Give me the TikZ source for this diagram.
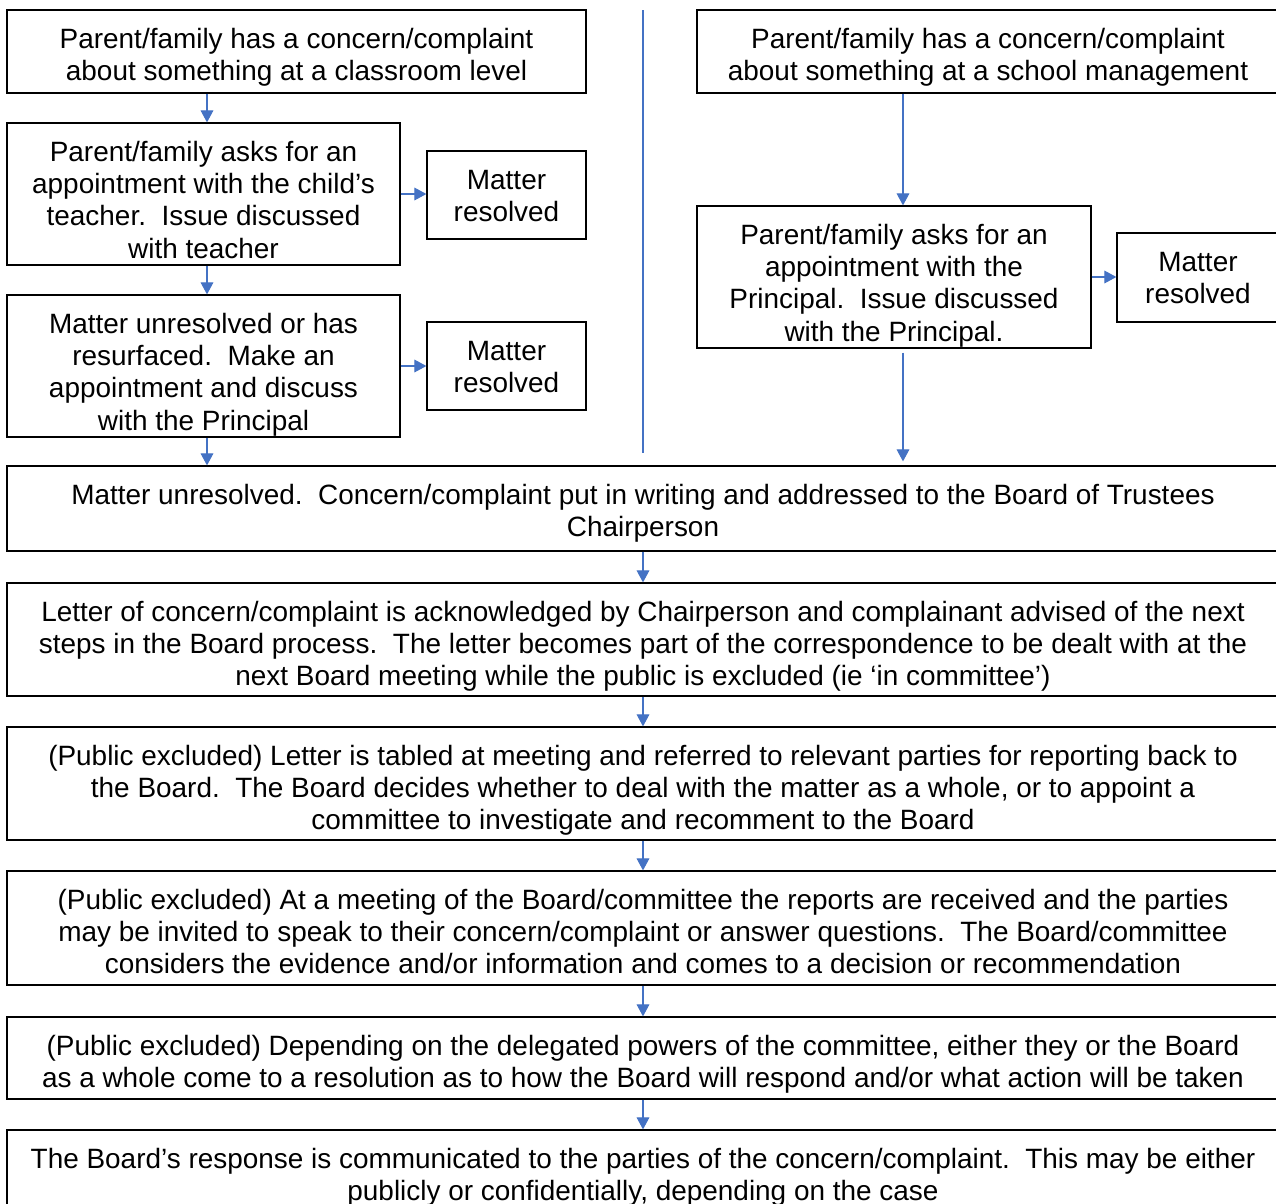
\documentclass[tikz,border=0pt]{standalone}
\usepackage{fontspec}
\setmainfont{Liberation Sans}
\usetikzlibrary{arrows.meta}
\definecolor{flowblue}{HTML}{4472C4}

\begin{document}
\begin{tikzpicture}[x=0.02cm, y=-0.02cm,
  box/.style 2 args={draw=black, line width=0.7pt, inner sep=0pt, font=\fontsize{15.9}{18.4}\selectfont,
    execute at begin node={\pgfmathsetlengthmacro\boxw{#1*0.02cm}\pgfmathsetlengthmacro\boxh{#2*0.02cm}\begin{minipage}[c][\boxh][t]{\boxw}\centering\rule{0pt}{21.7pt}},
    execute at end node={\end{minipage}}},
  flow/.style={draw=flowblue, line width=0.6pt, -{Triangle[length=6.8pt, width=7.2pt]}}]
\useasboundingbox (0,0) rectangle (1276,1204);

% left column: classroom level
\node[box={579}{83}] (class) at (296.5,51.5) {Parent/family has a concern/complaint\\about something at a classroom level};
\node[box={393}{142}] (teacher) at (203.5,194) {Parent/family asks for an\\appointment with the child’s\\teacher.\ \ Issue discussed\\with teacher};
\node[box={159}{88}] (resolvedA) at (506.5,195) {Matter\\resolved};
\node[box={393}{142}] (unresolved) at (203.5,366) {Matter unresolved or has\\resurfaced.\ \ Make an\\appointment and discuss\\with the Principal};
\node[box={159}{88}] (resolvedB) at (506.5,366) {Matter\\resolved};

% right column: school management
\node[box={582}{83}] (school) at (988,51.5) {Parent/family has a concern/complaint\\about something at a school management};
\node[box={394}{142}] (principal) at (894,277) {Parent/family asks for an\\appointment with the\\Principal.\ \ Issue discussed\\with the Principal.};
\node[box={162}{89}] (resolvedC) at (1198,277.5) {Matter\\resolved};

\draw[flowblue, line width=0.6pt] (643,10) -- (643,453);

% board process
\node[box={1272}{85}] (writing) at (643,508.5) {Matter unresolved.\ \ Concern/complaint put in writing and addressed to the Board of Trustees\\Chairperson};
\node[box={1272}{113}] (letter) at (643,639.5) {Letter of concern/complaint is acknowledged by Chairperson and complainant advised of the next\\steps in the Board process.\ \ The letter becomes part of the correspondence to be dealt with at the\\next Board meeting while the public is excluded (ie ‘in committee’)};
\node[box={1272}{113}] (tabled) at (643,783.5) {(Public excluded) Letter is tabled at meeting and referred to relevant parties for reporting back to\\the Board.\ \ The Board decides whether to deal with the matter as a whole, or to appoint a\\committee to investigate and recomment to the Board};
\node[box={1272}{114}] (meeting) at (643,928) {(Public excluded) At a meeting of the Board/committee the reports are received and the parties\\may be invited to speak to their concern/complaint or answer questions.\ \ The Board/committee\\considers the evidence and/or information and comes to a decision or recommendation};
\node[box={1272}{82}] (powers) at (643,1058) {(Public excluded) Depending on the delegated powers of the committee, either they or the Board\\as a whole come to a resolution as to how the Board will respond and/or what action will be taken};
\node[box={1272}{110}] (response) at (643,1185) {The Board’s response is communicated to the parties of the concern/complaint.\ \ This may be either\\publicly or confidentially, depending on the case};

\draw[flow] ([xshift=0.07cm]class.south -| teacher.north) -- ([xshift=0.07cm]teacher.north);
\draw[flow] (teacher.east) -- (teacher.east -| resolvedA.west);
\draw[flow] ([xshift=0.07cm]teacher.south) -- ([xshift=0.07cm]unresolved.north);
\draw[flow] (unresolved.east) -- (unresolved.east -| resolvedB.west);
\draw[flow] ([xshift=0.07cm]unresolved.south) -- ([xshift=0.07cm]unresolved.south |- writing.north);
\draw[flow] ([xshift=0.18cm]school.south -| principal.north) -- ([xshift=0.18cm]principal.north);
\draw[flow] (principal.east) -- (principal.east -| resolvedC.west);
\draw[flow] ([xshift=0.18cm,yshift=-0.08cm]principal.south) -- ([xshift=0.18cm,yshift=0.08cm]principal.south |- writing.north);
\draw[flow] (writing.south) -- (letter.north);
\draw[flow] (letter.south) -- (tabled.north);
\draw[flow] (tabled.south) -- (meeting.north);
\draw[flow] (meeting.south) -- (powers.north);
\draw[flow] (powers.south) -- (response.north);

\end{tikzpicture}
\end{document}
